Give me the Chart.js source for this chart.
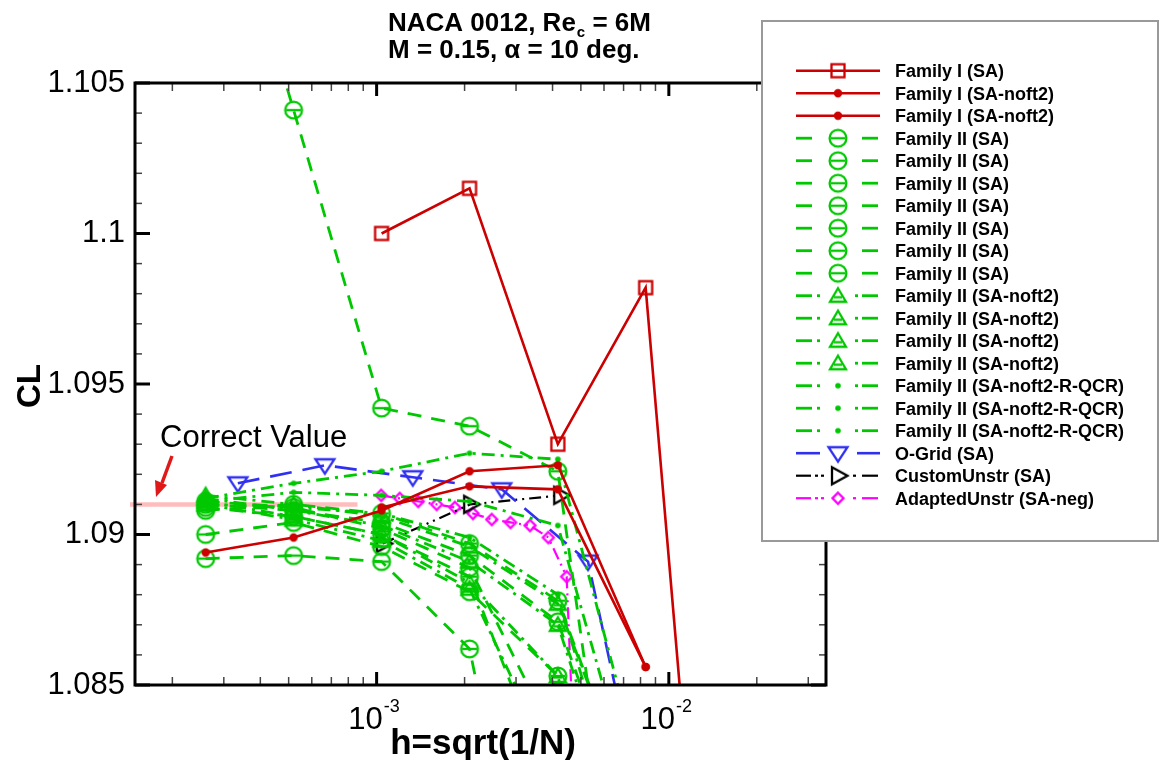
<!DOCTYPE html>
<html>
<head>
<meta charset="utf-8">
<title>NACA 0012 CL grid convergence</title>
<script src="https://cdn.jsdelivr.net/npm/chart.js@4.4.1/dist/chart.umd.min.js"></script>
<style>
  html, body { margin: 0; padding: 0; background: #fff; }
  canvas { display: block; }
</style>
</head>
<body>
<canvas id="cl-chart" width="1161" height="760"></canvas>
<script>
// Grid spacing levels h = sqrt(1/N)
const hFamily = [0.00026, 0.00052, 0.00104, 0.00208, 0.00417, 0.00833, 0.01667];
const hOGrid = [0.000335, 0.000665, 0.00133, 0.00268, 0.00529, 0.0106];
const hCustom = [0.00105, 0.00209, 0.00425];
const hAdapted = [0.001037, 0.0012, 0.001388, 0.001605, 0.001853, 0.002137,
                  0.002478, 0.002873, 0.00335, 0.00387, 0.00447, 0.00517];

// CL values, aligned with the h arrays above
const famISA     = [null, null, 1.1000, 1.1015, 1.0930, 1.0982, 1.0640];
const famINoft2A = [1.0894, 1.0899, 1.0908, 1.0921, 1.0923, 1.0856];
const famINoft2B = [null, null, 1.0909, 1.0916, 1.0915, 1.0856];

const famIISA1 = [1.1140, 1.1041, 1.0942, 1.0936, 1.0921, 1.0714];
const famIISA2 = [1.0892, 1.0893, 1.0891, 1.0862, 1.0720];
const famIISA3 = [1.0900, 1.0904, 1.0896, 1.0881, 1.0853, 1.0760];
const famIISA4 = [1.0909, 1.0906, 1.0900, 1.0886, 1.0810];
const famIISA5 = [1.0910, 1.0908, 1.0904, 1.0893, 1.0871, 1.0790];
const famIISA6 = [1.0911, 1.0909, 1.0902, 1.0889, 1.0830];
const famIISA7 = [1.0908, 1.0910, 1.0907, 1.0897, 1.0878, 1.0800];

const famIINoft2A = [1.0913, 1.0910, 1.0906, 1.0896, 1.0877, 1.0800];
const famIINoft2B = [1.0912, 1.0908, 1.0903, 1.0891, 1.0870, 1.0780];
const famIINoft2C = [1.0911, 1.0906, 1.0900, 1.0884, 1.0853, 1.0740];
const famIINoft2D = [1.0910, 1.0905, 1.0898, 1.0882, 1.0820];

const famIIQcrA = [1.0912, 1.0917, 1.0921, 1.0927, 1.0925, 1.0815];
const famIIQcrB = [1.0911, 1.0914, 1.0913, 1.0911, 1.0903, 1.0800];
const famIIQcrC = [1.0910, 1.0909, 1.0907, 1.0899, 1.0880, 1.0780];

const oGridSA = [1.0917, 1.0923, 1.0919, 1.0915, 1.0891, 1.0756];
const customSA = [1.0897, 1.0910, 1.0913];
const adaptedSA = [1.0913, 1.0912, 1.0911, 1.0910, 1.0909, 1.0907,
                   1.0905, 1.0904, 1.0903, 1.0899, 1.0886, 1.0736];

const correctValue = 1.0910;
const correctBandEnd = 0.00086;

// Axis ranges and tick labels
const X_MIN = 1.49e-4, X_MAX = 3.45e-2;
const Y_MIN = 1.085, Y_MAX = 1.105;
const yTickValues = [1.085, 1.09, 1.095, 1.1, 1.105];
const yTickLabels = ['1.085', '1.09', '1.095', '1.1', '1.105'];
const xTickExponents = [-3, -2];

const RED = '#cc0000', GREEN = '#00c800', BLUE = '#3030f0', BLACK = '#000000', MAGENTA = '#ff00ff';
const FONT = '"Liberation Sans", Arial, sans-serif';

// Build a small canvas used as a Chart.js point style
function makeMarker(kind, color) {
    const c = document.createElement('canvas');
    c.width = 26; c.height = 26;
    const g = c.getContext('2d');
    const m = 13;
    g.strokeStyle = color;
    g.fillStyle = color;
    g.lineWidth = 2.3;
    g.beginPath();
    switch (kind) {
        case 'square':
            g.strokeRect(m - 6.5, m - 6.5, 13, 13);
            break;
        case 'dot':
            g.arc(m, m, 4.2, 0, Math.PI * 2); g.fill();
            break;
        case 'smalldot':
            g.arc(m, m, 2.8, 0, Math.PI * 2); g.fill();
            break;
        case 'circleBar':
            g.arc(m, m, 8.4, 0, Math.PI * 2); g.stroke();
            g.beginPath(); g.moveTo(m - 7, m); g.lineTo(m + 7, m); g.stroke();
            break;
        case 'triangleBar':
            g.moveTo(m, m - 7.5); g.lineTo(m + 8, m + 6); g.lineTo(m - 8, m + 6); g.closePath(); g.stroke();
            g.beginPath(); g.moveTo(m - 4, m + 1.5); g.lineTo(m + 4, m + 1.5); g.stroke();
            break;
        case 'triangleDown':
            g.moveTo(m - 9.5, m - 6); g.lineTo(m + 9.5, m - 6); g.lineTo(m, m + 8.5); g.closePath(); g.stroke();
            break;
        case 'triangleRight':
            g.moveTo(m - 6, m - 8.5); g.lineTo(m + 9.5, m); g.lineTo(m - 6, m + 8.5); g.closePath(); g.stroke();
            break;
        case 'diamond':
            g.moveTo(m, m - 5.5); g.lineTo(m + 5.5, m); g.lineTo(m, m + 5.5); g.lineTo(m - 5.5, m); g.closePath(); g.stroke();
            break;
    }
    return c;
}

function toPoints(xs, ys) {
    return ys.map((y, i) => ({ x: xs[i], y })).filter(p => p.y !== null);
}

function series(label, xs, ys, color, width, dash, marker, glyph) {
    return {
        label,
        data: toPoints(xs, ys),
        borderColor: color,
        borderWidth: width,
        borderDash: dash,
        pointStyle: makeMarker(marker, color),
        pointRadius: 6,
        fill: false,
        tension: 0,
        legendGlyph: glyph
    };
}

const DASH = [14, 10], DASHDOT = [13, 6, 3, 6], LONGDASH = [22, 11],
      DASHDOTDOT = [12, 5, 2, 5, 2, 5];

const datasets = [
    series('Family I (SA)', hFamily, famISA, RED, 2.6, [], 'square', 'solid'),
    series('Family I (SA-noft2)', hFamily, famINoft2A, RED, 2.6, [], 'dot', 'solid'),
    series('Family I (SA-noft2)', hFamily, famINoft2B, RED, 2.6, [], 'dot', 'solid'),
    series('Family II (SA)', hFamily, famIISA1, GREEN, 2.8, DASH, 'circleBar', 'dash'),
    series('Family II (SA)', hFamily, famIISA2, GREEN, 2.8, DASH, 'circleBar', 'dash'),
    series('Family II (SA)', hFamily, famIISA3, GREEN, 2.8, DASH, 'circleBar', 'dash'),
    series('Family II (SA)', hFamily, famIISA4, GREEN, 2.8, DASH, 'circleBar', 'dash'),
    series('Family II (SA)', hFamily, famIISA5, GREEN, 2.8, DASH, 'circleBar', 'dash'),
    series('Family II (SA)', hFamily, famIISA6, GREEN, 2.8, DASH, 'circleBar', 'dash'),
    series('Family II (SA)', hFamily, famIISA7, GREEN, 2.8, DASH, 'circleBar', 'dash'),
    series('Family II (SA-noft2)', hFamily, famIINoft2A, GREEN, 2.8, DASHDOT, 'triangleBar', 'dashdot'),
    series('Family II (SA-noft2)', hFamily, famIINoft2B, GREEN, 2.8, DASHDOT, 'triangleBar', 'dashdot'),
    series('Family II (SA-noft2)', hFamily, famIINoft2C, GREEN, 2.8, DASHDOT, 'triangleBar', 'dashdot'),
    series('Family II (SA-noft2)', hFamily, famIINoft2D, GREEN, 2.8, DASHDOT, 'triangleBar', 'dashdot'),
    series('Family II (SA-noft2-R-QCR)', hFamily, famIIQcrA, GREEN, 2.8, DASHDOT, 'smalldot', 'dashdot'),
    series('Family II (SA-noft2-R-QCR)', hFamily, famIIQcrB, GREEN, 2.8, DASHDOT, 'smalldot', 'dashdot'),
    series('Family II (SA-noft2-R-QCR)', hFamily, famIIQcrC, GREEN, 2.8, DASHDOT, 'smalldot', 'dashdot'),
    series('O-Grid (SA)', hOGrid, oGridSA, BLUE, 2.6, LONGDASH, 'triangleDown', 'longdash'),
    series('CustomUnstr (SA)', hCustom, customSA, BLACK, 2.2, DASHDOTDOT, 'triangleRight', 'dashdotdot'),
    series('AdaptedUnstr (SA-neg)', hAdapted, adaptedSA, MAGENTA, 2.2, DASHDOTDOT, 'diamond', 'dashdotdot')
];

// Legend line pieces (x ranges) for each line style
const legendPieces = {
    solid: [[796, 880]],
    dash: [[796, 812], [862, 878]],
    longdash: [[796, 820], [857, 880]],
    dashdot: [[796, 812], [817, 820], [855, 858], [862, 878]],
    dashdotdot: [[796, 811], [815, 818], [821, 824], [853, 856], [862, 878]]
};

function line(ctx, x1, y1, x2, y2) {
    ctx.beginPath();
    ctx.moveTo(x1, y1);
    ctx.lineTo(x2, y2);
    ctx.stroke();
}

// Draws the Tecplot-like frame, ticks, labels, legend and annotations
const tecplotFrame = {
    id: 'tecplotFrame',
    beforeDatasetsDraw(chart) {
        const { ctx, chartArea, scales: { x, y } } = chart;
        const yc = y.getPixelForValue(correctValue);
        ctx.save();
        ctx.strokeStyle = 'rgba(255, 160, 160, 0.7)';
        ctx.lineWidth = 4.5;
        line(ctx, chartArea.left - 5, yc, x.getPixelForValue(correctBandEnd), yc);
        ctx.restore();
    },
    afterDraw(chart) {
        const { ctx, chartArea, scales: { x, y } } = chart;
        const { left, right, top, bottom } = chartArea;
        ctx.save();

        // y ticks (left and right)
        for (let i = 0; i <= 20; i++) {
            const py = y.getPixelForValue(Y_MIN + i * 0.001);
            const major = i % 5 === 0;
            const len = major ? 15 : 7;
            ctx.lineWidth = major ? 3 : 1.5;
            ctx.strokeStyle = major ? '#000' : '#444';
            line(ctx, left, py, left + len, py);
            line(ctx, right, py, right - len, py);
        }
        // x ticks (bottom and top)
        for (let e = -4; e <= -2; e++) {
            for (let k = 1; k <= 9; k++) {
                const v = k * Math.pow(10, e);
                if (v < X_MIN || v > X_MAX) continue;
                const px = x.getPixelForValue(v);
                const major = k === 1;
                const len = major ? 13 : 8;
                ctx.lineWidth = major ? 3 : 1.5;
                ctx.strokeStyle = major ? '#000' : '#444';
                line(ctx, px, bottom, px, bottom - len);
                line(ctx, px, top, px, top + len);
            }
        }
        // frame
        ctx.lineWidth = 3;
        ctx.strokeStyle = '#000';
        ctx.strokeRect(left, top, right - left, bottom - top);

        // y tick labels
        ctx.fillStyle = '#000';
        ctx.font = `31px ${FONT}`;
        ctx.textAlign = 'right';
        ctx.textBaseline = 'middle';
        yTickValues.forEach((v, i) => {
            ctx.fillText(yTickLabels[i], left - 10, y.getPixelForValue(v));
        });

        // x tick labels 10^e
        ctx.textAlign = 'left';
        ctx.textBaseline = 'alphabetic';
        xTickExponents.forEach(e => {
            const px = x.getPixelForValue(Math.pow(10, e));
            ctx.font = `31px ${FONT}`;
            const w1 = ctx.measureText('10').width;
            ctx.font = `18px ${FONT}`;
            const sup = String(e);
            const w2 = ctx.measureText(sup).width;
            const x0 = px - (w1 + w2) / 2 - 3;
            ctx.font = `31px ${FONT}`;
            ctx.fillText('10', x0, 729);
            ctx.font = `18px ${FONT}`;
            ctx.fillText(sup, x0 + w1 + 1, 712);
        });

        // axis titles
        ctx.font = `bold 35px ${FONT}`;
        ctx.textAlign = 'center';
        ctx.fillText('h=sqrt(1/N)', 483, 754);
        ctx.save();
        ctx.translate(40, 386);
        ctx.rotate(-Math.PI / 2);
        ctx.font = `bold 33px ${FONT}`;
        ctx.fillText('CL', 0, 0);
        ctx.restore();

        // title
        ctx.textAlign = 'left';
        ctx.font = `bold 26px ${FONT}`;
        const t1 = 'NACA 0012, Re';
        ctx.fillText(t1, 388, 31);
        let tx = 388 + ctx.measureText(t1).width;
        ctx.font = `bold 15px ${FONT}`;
        ctx.fillText('c', tx + 1, 37);
        tx += ctx.measureText('c').width + 1;
        ctx.font = `bold 26px ${FONT}`;
        ctx.fillText(' = 6M', tx, 31);
        ctx.fillText('M = 0.15, \u03b1 = 10 deg.', 388, 58);

        // correct value annotation
        ctx.font = `31px ${FONT}`;
        ctx.fillText('Correct Value', 160, 447);
        ctx.strokeStyle = '#e01818';
        ctx.fillStyle = '#e01818';
        ctx.lineWidth = 3.5;
        line(ctx, 172, 456, 162, 483);
        ctx.beginPath();
        ctx.moveTo(156, 497);
        ctx.lineTo(155, 480);
        ctx.lineTo(167, 485);
        ctx.closePath();
        ctx.fill();

        // legend
        ctx.fillStyle = '#fff';
        ctx.fillRect(762, 21, 396, 520);
        ctx.strokeStyle = '#999';
        ctx.lineWidth = 2;
        ctx.strokeRect(762, 21, 396, 520);
        chart.data.datasets.forEach((ds, i) => {
            const yy = 70.7 + i * 22.5;
            ctx.strokeStyle = ds.borderColor;
            ctx.lineWidth = ds.borderWidth;
            legendPieces[ds.legendGlyph].forEach(([a, b]) => line(ctx, a, yy, b, yy));
            const mk = ds.pointStyle;
            ctx.drawImage(mk, 838 - mk.width / 2, yy - mk.height / 2);
            ctx.fillStyle = '#000';
            ctx.font = `bold 18px ${FONT}`;
            ctx.textAlign = 'left';
            ctx.textBaseline = 'alphabetic';
            ctx.fillText(ds.label, 895, yy + 6.5);
        });

        ctx.restore();
    }
};

const ctx = document.getElementById('cl-chart').getContext('2d');
const clChart = new Chart(ctx, {
    type: 'line',
    data: { datasets },
    options: {
        responsive: false,
        animation: false,
        devicePixelRatio: 1,
        layout: { padding: { left: 135, right: 335, top: 83, bottom: 75 } },
        plugins: {
            legend: { display: false },
            title: { display: false },
            tooltip: { enabled: false }
        },
        scales: {
            x: { type: 'logarithmic', min: X_MIN, max: X_MAX, display: false },
            y: { type: 'linear', min: Y_MIN, max: Y_MAX, display: false }
        }
    },
    plugins: [tecplotFrame]
});
</script>
</body>
</html>
